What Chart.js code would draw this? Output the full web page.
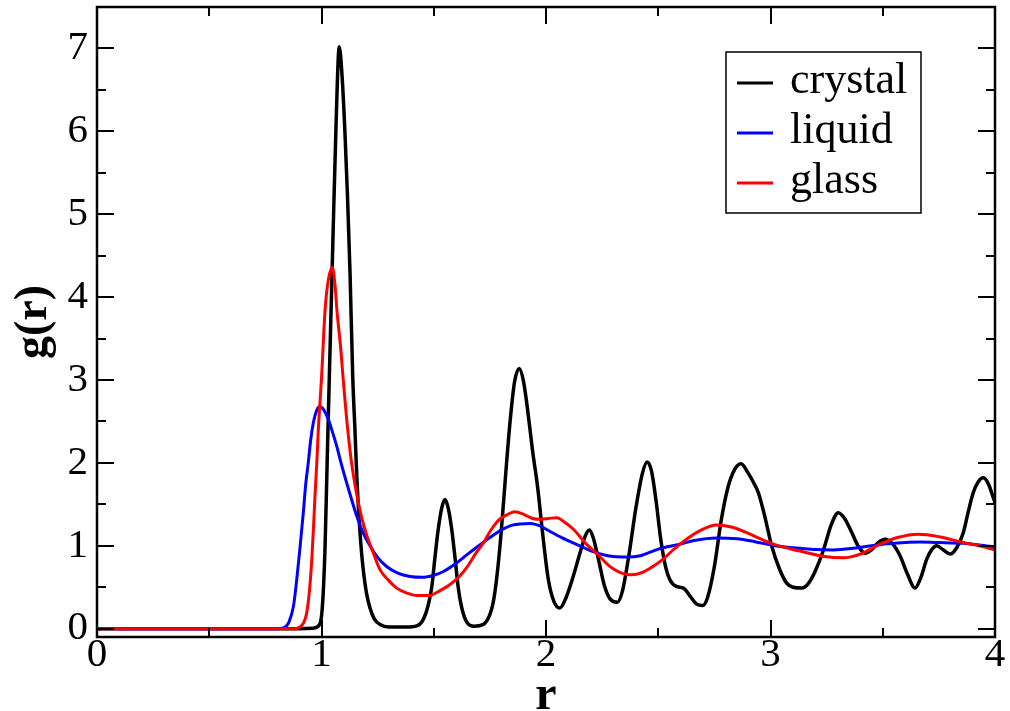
<!DOCTYPE html>
<html lang="en">
<head>
    <meta charset="UTF-8">
    <title>g(r) - crystal, liquid, glass</title>
    <script src="https://cdn.jsdelivr.net/npm/chart.js"></script>
    <style>
        body { margin: 0; background: #fff; }
        #chartContainer { width: 1010px; height: 711px; }
    </style>
</head>
<body>
    <div id="chartContainer">
        <canvas id="grChart" width="1010" height="711"></canvas>
    </div>
    <script>
        // radial distribution function
        const rCrystal = [0, 0.5, 0.9, 0.96, 0.985, 1.0, 1.008, 1.016, 1.026, 1.035, 1.05, 1.065, 1.079, 1.092, 1.105, 1.116, 1.127, 1.139, 1.149, 1.157, 1.168, 1.179, 1.19, 1.201, 1.216, 1.235, 1.261, 1.3, 1.38, 1.43, 1.455, 1.475, 1.491, 1.505, 1.52, 1.535, 1.55, 1.565, 1.58, 1.595, 1.609, 1.625, 1.647, 1.68, 1.72, 1.75, 1.765, 1.78, 1.8, 1.82, 1.84, 1.86, 1.881, 1.9, 1.92, 1.94, 1.963, 1.985, 2.01, 2.035, 2.062, 2.09, 2.12, 2.15, 2.175, 2.193, 2.21, 2.235, 2.26, 2.285, 2.318, 2.34, 2.37, 2.4, 2.43, 2.451, 2.47, 2.49, 2.51, 2.53, 2.552, 2.58, 2.612, 2.64, 2.67, 2.698, 2.72, 2.75, 2.78, 2.81, 2.84, 2.869, 2.9, 2.925, 2.946, 2.975, 3.005, 3.04, 3.072, 3.1, 3.139, 3.17, 3.2, 3.236, 3.27, 3.302, 3.33, 3.362, 3.39, 3.421, 3.45, 3.48, 3.51, 3.545, 3.577, 3.61, 3.644, 3.67, 3.696, 3.72, 3.74, 3.77, 3.8, 3.83, 3.859, 3.88, 3.903, 3.925, 3.948, 3.97, 3.99, 4.0];
        const gCrystal = [0, 0, 0, 0.005, 0.03, 0.15, 0.45, 1.0, 2.1, 3.05, 4.6, 6.1, 7.02, 6.65, 5.95, 5.2, 4.3, 3.05, 2.4, 1.85, 1.3, 0.9, 0.62, 0.42, 0.25, 0.12, 0.05, 0.02, 0.02, 0.04, 0.12, 0.28, 0.5, 0.85, 1.2, 1.45, 1.56, 1.45, 1.2, 0.85, 0.5, 0.25, 0.08, 0.03, 0.05, 0.17, 0.32, 0.6, 1.15, 1.85, 2.5, 2.98, 3.14, 2.98, 2.6, 2.15, 1.7, 1.15, 0.6, 0.33, 0.25, 0.38, 0.62, 0.9, 1.12, 1.19, 1.1, 0.82, 0.52, 0.36, 0.32, 0.45, 0.9, 1.45, 1.88, 2.01, 1.9, 1.55, 1.1, 0.78, 0.59, 0.51, 0.49, 0.4, 0.3, 0.28, 0.38, 0.75, 1.3, 1.7, 1.92, 1.99, 1.88, 1.76, 1.64, 1.35, 1.0, 0.72, 0.55, 0.5, 0.49, 0.55, 0.7, 0.95, 1.25, 1.4, 1.33, 1.16, 1.0, 0.91, 0.95, 1.04, 1.08, 1.02, 0.88, 0.66, 0.49, 0.62, 0.84, 0.96, 1.0, 0.95, 0.9, 0.98, 1.16, 1.4, 1.64, 1.77, 1.82, 1.75, 1.6, 1.52];

        const rLiquid = [0, 0.5, 0.8, 0.83, 0.855, 0.875, 0.89, 0.905, 0.919, 0.93, 0.941, 0.952, 0.964, 0.978, 0.993, 1.01, 1.03, 1.048, 1.068, 1.09, 1.112, 1.135, 1.157, 1.185, 1.216, 1.25, 1.29, 1.34, 1.394, 1.45, 1.5, 1.543, 1.6, 1.647, 1.7, 1.75, 1.8, 1.85, 1.93, 1.973, 2.02, 2.07, 2.151, 2.2, 2.26, 2.3, 2.359, 2.42, 2.5, 2.597, 2.66, 2.76, 2.85, 2.93, 3.013, 3.087, 3.131, 3.2, 3.28, 3.37, 3.458, 3.55, 3.666, 3.75, 3.859, 3.93, 4.0];
        const gLiquid = [0, 0, 0, 0.01, 0.08, 0.27, 0.6, 1.0, 1.4, 1.75, 2.0, 2.28, 2.49, 2.63, 2.68, 2.64, 2.53, 2.38, 2.2, 1.97, 1.76, 1.55, 1.36, 1.16, 1.0, 0.86, 0.75, 0.67, 0.63, 0.62, 0.645, 0.69, 0.79, 0.89, 1.0, 1.1, 1.19, 1.25, 1.27, 1.24, 1.17, 1.1, 1.0, 0.94, 0.89, 0.87, 0.865, 0.88, 0.96, 1.02, 1.065, 1.095, 1.085, 1.05, 1.005, 0.98, 0.97, 0.955, 0.95, 0.97, 1.005, 1.03, 1.045, 1.04, 1.03, 1.01, 0.985];

        const rGlass = [0, 0.5, 0.88, 0.904, 0.92, 0.934, 0.946, 0.956, 0.964, 0.971, 0.979, 0.986, 1.0, 1.016, 1.03, 1.048, 1.06, 1.07, 1.085, 1.097, 1.115, 1.134, 1.157, 1.18, 1.201, 1.23, 1.261, 1.3, 1.335, 1.38, 1.424, 1.476, 1.528, 1.571, 1.617, 1.65, 1.69, 1.72, 1.757, 1.793, 1.83, 1.861, 1.9, 1.94, 1.973, 2.01, 2.048, 2.08, 2.122, 2.18, 2.236, 2.28, 2.321, 2.381, 2.43, 2.47, 2.522, 2.57, 2.626, 2.69, 2.76, 2.82, 2.894, 2.95, 3.013, 3.087, 3.157, 3.24, 3.324, 3.4, 3.488, 3.566, 3.658, 3.75, 3.859, 3.93, 4.0];
        const gGlass = [0, 0, 0, 0.02, 0.07, 0.19, 0.45, 0.8, 1.2, 1.6, 2.0, 2.41, 3.02, 3.85, 4.2, 4.36, 4.15, 3.8, 3.4, 3.0, 2.45, 2.0, 1.62, 1.33, 1.13, 0.92, 0.71, 0.58, 0.49, 0.43, 0.4, 0.4, 0.46, 0.53, 0.64, 0.75, 0.92, 1.03, 1.2, 1.32, 1.38, 1.41, 1.38, 1.33, 1.32, 1.33, 1.34, 1.29, 1.2, 1.02, 0.88, 0.76, 0.69, 0.65, 0.68, 0.74, 0.84, 0.96, 1.08, 1.19, 1.25, 1.23, 1.16, 1.09, 1.02, 0.965, 0.92, 0.87, 0.855, 0.9, 1.02, 1.1, 1.14, 1.11, 1.04, 1.0, 0.95];

        const xTicks = [0, 1, 2, 3, 4];
        const yTicks = [0, 1, 2, 3, 4, 5, 6, 7];

        const toPoints = (xs, ys) => xs.map((x, i) => ({ x: x, y: ys[i] }));

        const serif = 'Liberation Serif';
        Chart.defaults.font.family = serif;
        Chart.defaults.color = '#000';

        // box round the plot with inward ticks on all four sides
        const framePlugin = {
            id: 'frame',
            afterDatasetsDraw(chart) {
                const { ctx, chartArea: a, scales } = chart;
                const sx = scales.x, sy = scales.y;
                ctx.save();
                ctx.strokeStyle = '#000';
                ctx.lineWidth = 2;
                ctx.beginPath();
                for (let v = 0; v <= 4; v += 0.5) {
                    const px = Math.round(sx.getPixelForValue(v));
                    const len = v % 1 === 0 ? 17 : 9;
                    ctx.moveTo(px, a.bottom); ctx.lineTo(px, a.bottom - len);
                    ctx.moveTo(px, a.top); ctx.lineTo(px, a.top + len);
                }
                for (let v = 0; v <= 7.5; v += 0.5) {
                    const py = Math.round(sy.getPixelForValue(v));
                    const len = v % 1 === 0 ? 17 : 9;
                    ctx.moveTo(a.left, py); ctx.lineTo(a.left + len, py);
                    ctx.moveTo(a.right, py); ctx.lineTo(a.right - len, py);
                }
                ctx.stroke();
                ctx.lineWidth = 2.5;
                ctx.strokeRect(a.left, a.top, a.right - a.left, a.bottom - a.top);
                ctx.restore();
            }
        };

        // boxed legend, top right
        const legendPlugin = {
            id: 'boxLegend',
            afterDraw(chart) {
                const ctx = chart.ctx;
                const box = { left: 726, top: 52, width: 195, height: 161 };
                ctx.save();
                ctx.fillStyle = '#fff';
                ctx.fillRect(box.left, box.top, box.width, box.height);
                ctx.strokeStyle = '#000';
                ctx.lineWidth = 1.5;
                ctx.strokeRect(box.left, box.top, box.width, box.height);
                ctx.font = '44px "' + serif + '"';
                ctx.textBaseline = 'alphabetic';
                chart.data.datasets.forEach((ds, i) => {
                    const ly = 83 + i * 50;
                    ctx.strokeStyle = ds.borderColor;
                    ctx.lineWidth = 3;
                    ctx.beginPath();
                    ctx.moveTo(737, ly);
                    ctx.lineTo(773, ly);
                    ctx.stroke();
                    ctx.fillStyle = '#000';
                    ctx.fillText(ds.label, 790, ly + 10);
                });
                ctx.restore();
            }
        };

        const ctx = document.getElementById('grChart').getContext('2d');

        new Chart(ctx, {
            type: 'line',
            data: {
                datasets: [
                    { label: 'crystal', data: toPoints(rCrystal, gCrystal), borderColor: '#000000', borderWidth: 3.5, order: 2 },
                    { label: 'liquid', data: toPoints(rLiquid, gLiquid), borderColor: '#0000ff', borderWidth: 3, order: 1 },
                    { label: 'glass', data: toPoints(rGlass, gGlass), borderColor: '#ff0000', borderWidth: 3, order: 0 }
                ]
            },
            options: {
                responsive: false,
                animation: false,
                devicePixelRatio: 1,
                layout: { padding: { left: 0, right: 15, top: 7, bottom: 0 } },
                elements: {
                    point: { radius: 0 },
                    line: { cubicInterpolationMode: 'monotone', fill: false }
                },
                plugins: {
                    legend: { display: false },
                    tooltip: { enabled: false }
                },
                scales: {
                    x: {
                        type: 'linear',
                        min: 0,
                        max: 4,
                        grid: { display: false, drawTicks: false },
                        border: { display: false },
                        ticks: { font: { size: 41, lineHeight: 1 }, padding: -2, color: '#000' },
                        title: {
                            display: true,
                            text: 'r',
                            font: { size: 48, weight: 'bold', lineHeight: 0.5 },
                            padding: { top: 0, bottom: 2 }
                        },
                        afterBuildTicks(scale) { scale.ticks = xTicks.map(v => ({ value: v })); },
                        afterFit(scale) {
                            scale.height = 74;
                            scale.paddingLeft = 0; scale.paddingRight = 0;
                        }
                    },
                    y: {
                        min: -0.1,
                        max: 7.5,
                        grid: { display: false, drawTicks: false },
                        border: { display: false },
                        ticks: { font: { size: 41, lineHeight: 1 }, padding: 9, color: '#000' },
                        title: {
                            display: true,
                            text: 'g(r)',
                            font: { size: 46, weight: 'bold', lineHeight: 1 },
                            padding: { top: 11, bottom: 0 }
                        },
                        afterBuildTicks(scale) { scale.ticks = yTicks.map(v => ({ value: v })); },
                        afterFit(scale) {
                            scale.width = 97;
                            scale.paddingTop = 0; scale.paddingBottom = 0;
                        }
                    }
                }
            },
            plugins: [framePlugin, legendPlugin]
        });
    </script>
</body>
</html>
